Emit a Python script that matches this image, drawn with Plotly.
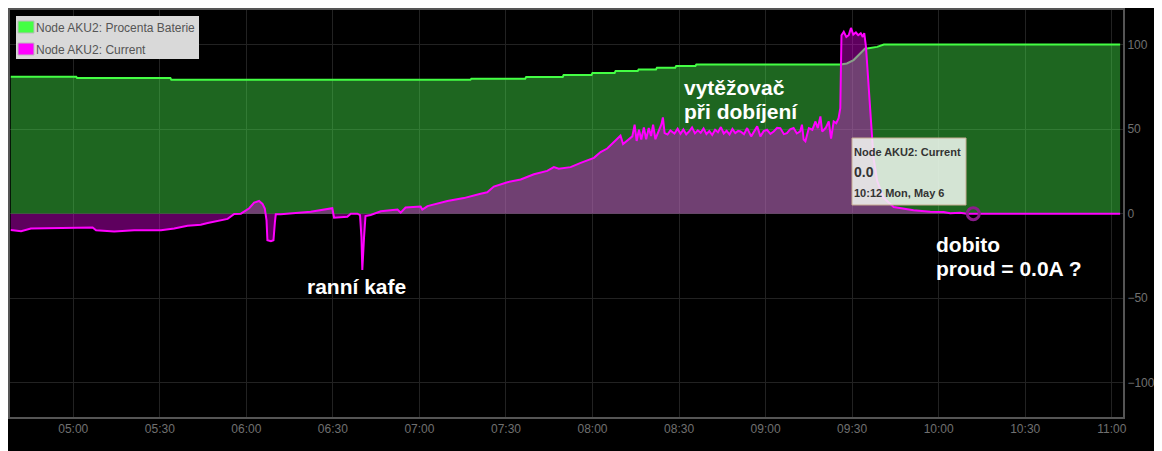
import plotly.graph_objs as go

day = '2019-05-06 '

# Node AKU2: Procenta Baterie (battery %)
battery_times = ['04:38:20', '05:01:00', '05:01:20', '05:33:40', '05:34:00', '07:17:40',
                 '07:18:00', '07:36:40', '07:37:00', '07:49:40', '07:50:00', '07:59:40',
                 '08:00:00', '08:07:40', '08:08:00', '08:15:40', '08:16:00', '08:22:00',
                 '08:22:20', '08:28:40', '08:29:00', '08:35:40', '08:36:00', '09:26:00',
                 '09:28:10', '09:30:30', '09:34:30', '09:35:10', '09:38:40', '09:41:00',
                 '11:02:54']
battery_values = [81.0, 81.0, 80.2, 80.2, 79.1, 79.1,
                  79.8, 79.8, 80.8, 80.8, 82.0, 82.0,
                  83.2, 83.2, 84.3, 84.3, 85.3, 85.3,
                  86.3, 86.3, 87.3, 87.3, 88.2, 88.2,
                  88.8, 90.8, 97.6, 97.6, 98.6, 100.0,
                  100.0]

# Node AKU2: Current
current_times = ['04:38:20', '04:41:54', '04:45:18', '04:50:00', '05:00:18', '05:06:42',
                 '05:07:54', '05:14:12', '05:21:06', '05:30:24', '05:35:00', '05:39:36',
                 '05:44:12', '05:46:36', '05:53:30', '05:55:48', '05:58:06', '06:01:00',
                 '06:02:42', '06:04:24', '06:05:36', '06:06:24', '06:07:00', '06:07:18',
                 '06:08:30', '06:09:24', '06:09:54', '06:10:12', '06:11:54', '06:18:54',
                 '06:22:18', '06:29:48', '06:30:24', '06:35:00', '06:36:12', '06:38:30',
                 '06:39:24', '06:39:54', '06:40:12', '06:40:48', '06:41:18', '06:43:06',
                 '06:46:36', '06:52:24', '06:53:30', '06:55:12', '07:00:24', '07:01:00',
                 '07:02:48', '07:09:42', '07:15:24', '07:21:12', '07:23:30', '07:25:48',
                 '07:30:30', '07:35:06', '07:39:42', '07:44:18', '07:46:36', '07:48:18',
                 '07:52:24', '07:55:54', '08:00:30', '08:02:48', '08:05:06', '08:09:42',
                 '08:10:36', '08:13:48', '08:14:36', '08:15:18', '08:16:06', '08:16:54',
                 '08:17:48', '08:18:36', '08:19:30', '08:20:18', '08:21:00', '08:21:48',
                 '08:23:00', '08:23:54', '08:24:24', '08:25:00', '08:26:00', '08:27:00',
                 '08:28:24', '08:29:30', '08:30:30', '08:31:30', '08:32:30', '08:33:30',
                 '08:34:30', '08:35:30', '08:36:30', '08:37:30', '08:38:30', '08:39:30',
                 '08:40:30', '08:41:30', '08:42:30', '08:43:30', '08:44:30', '08:45:30',
                 '08:46:30', '08:47:30', '08:48:30', '08:49:30', '08:50:30', '08:51:18',
                 '08:52:30', '08:53:36', '08:55:00', '08:57:06', '08:58:12', '08:59:20',
                 '09:00:30', '09:01:40', '09:02:48', '09:04:00', '09:05:06', '09:06:20',
                 '09:07:24', '09:08:30', '09:09:42', '09:10:50', '09:12:00', '09:12:36',
                 '09:13:12', '09:13:48', '09:15:00', '09:16:12', '09:17:18', '09:18:06',
                 '09:19:00', '09:19:36', '09:20:48', '09:21:54', '09:22:42', '09:23:36',
                 '09:24:30', '09:25:18', '09:25:54', '09:26:18', '09:27:06', '09:28:00',
                 '09:28:48', '09:29:36', '09:30:24', '09:31:18', '09:32:06', '09:33:00',
                 '09:33:42', '09:34:12', '09:34:48', '09:35:36', '09:36:24', '09:37:24',
                 '09:38:42', '09:40:54', '09:44:24', '09:51:18', '09:57:06', '10:01:42',
                 '10:04:00', '10:07:24', '10:09:48', '11:02:54']
current_values = [-9.6, -10.4, -8.8, -8.6, -8.4, -8.2,
                  -9.8, -10.6, -9.8, -9.8, -8.8, -7.1,
                  -6.6, -5.5, -3.1, -0.2, 0.0, 3.2,
                  6.5, 7.5, 5.8, 3.0, -4.0, -15.7,
                  -16.3, -15.7, -5.0, -0.4, -0.4, 0.4,
                  1.2, 3.2, -2.4, -1.8, 0.0, 0.0,
                  -0.8, -14.0, -33.3, -14.0, -1.4, -0.8,
                  1.4, 2.4, 0.6, 3.6, 4.2, 2.4,
                  4.5, 7.5, 9.2, 11.8, 12.6, 16.0,
                  18.6, 20.2, 23.3, 25.3, 27.5, 26.6,
                  27.5, 30.0, 33.0, 36.4, 38.5, 46.1,
                  41.2, 45.7, 52.6, 43.0, 49.6, 43.8,
                  51.0, 44.0, 50.6, 45.9, 52.6, 44.0,
                  49.0, 52.9, 56.9, 47.6, 46.8, 49.2,
                  47.4, 50.2, 47.2, 49.8, 46.9, 48.6,
                  51.0, 47.5, 49.3, 47.8, 50.4, 47.1,
                  48.8, 46.5, 49.6, 48.1, 51.2, 47.4,
                  49.0, 46.8, 50.1, 47.6, 48.9, 48.6,
                  47.0, 50.6, 45.7, 51.6, 45.7, 48.8,
                  49.6, 47.2, 48.6, 50.8, 50.6, 47.0,
                  47.6, 49.8, 50.6, 47.4, 48.6, 52.6,
                  43.8, 42.8, 50.6, 49.6, 54.5, 50.6,
                  57.5, 48.6, 50.6, 54.5, 44.4, 54.5,
                  53.5, 56.5, 62.4, 105.5, 107.5, 104.5,
                  105.5, 109.8, 105.9, 107.1, 105.5, 106.7,
                  104.5, 106.7, 98.6, 78.0, 58.5, 33.0,
                  19.2, 9.4, 3.9, 2.0, 1.2, 1.0,
                  0.2, 0.6, 0.0, 0.0]

hover_time = ['10:12:00']
hover_value = [0.0]

trace_battery = go.Scatter(
    x=[day + t for t in battery_times],
    y=battery_values,
    name='Node AKU2: Procenta Baterie',
    mode='lines',
    line=dict(color='#44ff44', width=2),
    fill='tozeroy',
    fillcolor='rgba(76,255,80,0.4)')

trace_current = go.Scatter(
    x=[day + t for t in current_times],
    y=current_values,
    name='Node AKU2: Current',
    mode='lines',
    line=dict(color='#ff00ff', width=2),
    fill='tozeroy',
    fillcolor='rgba(255,0,255,0.37)')

trace_hover = go.Scatter(
    x=[day + t for t in hover_time],
    y=hover_value,
    mode='markers',
    marker=dict(symbol='circle-open', size=12, color='#8b1c8b', line=dict(width=3, color='#8b1c8b')),
    showlegend=False)

# the page body adds an 8px offset; plot area sits at left 9, top 8 of the window
OFF = 8
L, T = 9, 8
PAD = 3  # annotation box padding


def label(text, px, py, size, color, bold=True):
    if bold:
        text = '<b>' + text + '</b>'
    return dict(text=text, xref='paper', yref='paper', x=0, y=1,
                xshift=px - L - PAD, yshift=-(py - T), xanchor='left', yanchor='middle',
                showarrow=False, font=dict(family='Liberation Sans, Arial', size=size, color=color))


def box(x0, y0, x1, y1, fill, line_color=None):
    return dict(type='rect', xref='paper', yref='paper', xsizemode='pixel', ysizemode='pixel',
                xanchor=0, yanchor=1, x0=x0 - L, x1=x1 - L, y0=-(y0 - T), y1=-(y1 - T),
                fillcolor=fill, line=dict(width=1 if line_color else 0, color=line_color or fill))


annotations = [
    label('vytěžovač', 684, 85, 21, 'white'),
    label('při dobíjení', 684, 109, 21, 'white'),
    label('ranní kafe', 307, 284, 21, 'white'),
    label('dobito', 936, 242, 21, 'white'),
    label('proud = 0.0A ?', 936, 266, 21, 'white'),
    # legend
    label('Node AKU2: Procenta Baterie', 36, 25.5, 12, '#555555', bold=False),
    label('Node AKU2: Current', 36, 47.5, 12, '#555555', bold=False),
    # tooltip
    label('Node AKU2: Current', 854, 150, 11, '#333333'),
    label('0.0', 854, 170, 14, '#333333'),
    label('10:12 Mon, May 6', 854, 191, 11, '#333333'),
]

shapes = [
    box(15, 14, 198, 57, '#d9d9d9'),
    box(17, 19, 33, 31, '#44ff44', '#bbbbbb'),
    box(17, 41, 33, 53, '#ff00ff', '#bbbbbb'),
    box(851, 136, 965, 203, 'rgba(245,250,245,0.85)', '#c8ac92'),
]

layout = go.Layout(
    width=1162 - OFF,
    height=451 - OFF,
    margin=dict(l=L - OFF, r=39, t=T - OFF, b=34, pad=0),
    paper_bgcolor='black',
    plot_bgcolor='black',
    showlegend=False,
    font=dict(family='Liberation Sans, Arial', size=12, color='#707070'),
    xaxis=dict(
        type='date',
        range=[day + '04:38:04', day + '11:03:54'],
        tick0=day + '05:00',
        dtick=1800000,
        tickformat='%H:%M',
        showgrid=True,
        gridcolor='#222222',
        gridwidth=1,
        showline=True,
        mirror=True,
        linecolor='#555555',
        linewidth=2,
        ticks='',
        zeroline=False,
        tickfont=dict(color='#707070', size=12)),
    yaxis=dict(
        range=[-120.2, 120.4],
        tick0=0,
        dtick=50,
        side='right',
        showgrid=True,
        gridcolor='#222222',
        gridwidth=1,
        showline=True,
        mirror=True,
        linecolor='#555555',
        linewidth=2,
        ticks='',
        zeroline=False,
        tickfont=dict(color='#707070', size=12)),
    annotations=annotations,
    shapes=shapes)

fig = go.Figure(data=[trace_battery, trace_current, trace_hover], layout=layout)
fig.write_html('out.html')
